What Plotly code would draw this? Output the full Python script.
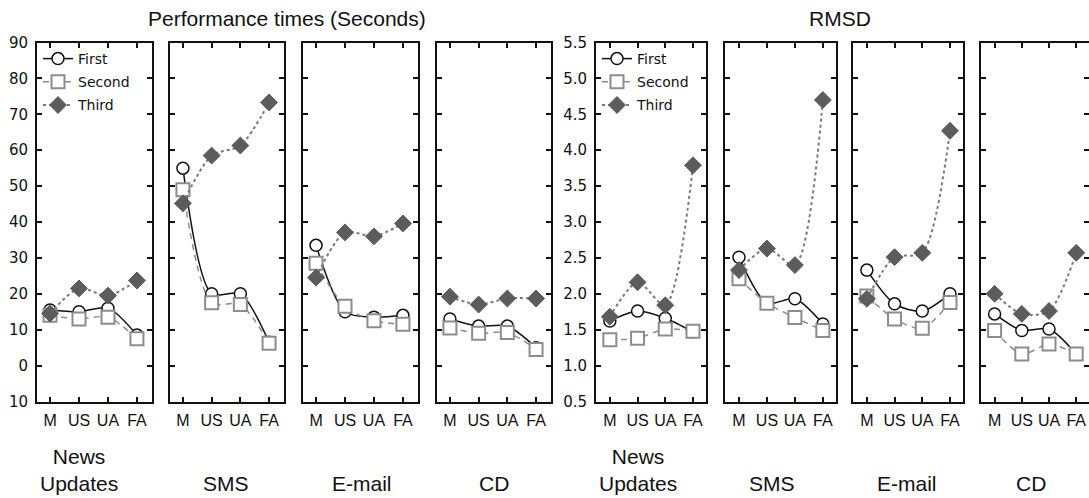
import plotly.graph_objects as go

# ---- data -------------------------------------------------------------
categories = ["M", "US", "UA", "FA"]
tasks = ["News<br>Updates", "SMS", "E-mail", "CD"]
series = ["First", "Second", "Third"]

# Performance times (seconds), one list per task: values for M, US, UA, FA
time_first = [
    [15.5, 15.0, 16.0, 8.5],
    [55.0, 20.0, 20.0, 6.5],
    [33.5, 15.0, 13.5, 14.0],
    [13.0, 11.0, 11.0, 5.0],
]
time_second = [
    [14.0, 13.0, 13.5, 7.5],
    [49.0, 17.5, 17.0, 6.2],
    [28.5, 16.5, 12.5, 11.5],
    [10.5, 9.0, 9.2, 4.5],
]
time_third = [
    [14.5, 21.5, 19.5, 23.7],
    [45.2, 58.5, 61.3, 73.3],
    [24.5, 37.1, 36.0, 39.6],
    [19.2, 17.0, 18.7, 18.7],
]

# RMSD, one list per task: values for M, US, UA, FA
rmsd_first = [
    [1.62, 1.76, 1.66, 1.47],
    [2.51, 1.87, 1.93, 1.58],
    [2.33, 1.86, 1.76, 2.00],
    [1.72, 1.49, 1.51, 1.16],
]
rmsd_second = [
    [1.36, 1.38, 1.51, 1.48],
    [2.21, 1.87, 1.67, 1.49],
    [1.97, 1.65, 1.52, 1.88],
    [1.49, 1.16, 1.30, 1.16],
]
rmsd_third = [
    [1.68, 2.16, 1.84, 3.79],
    [2.33, 2.63, 2.40, 4.70],
    [1.93, 2.51, 2.57, 4.27],
    [2.00, 1.72, 1.76, 2.57],
]

time_tickvals = [-10, 0, 10, 20, 30, 40, 50, 60, 70, 80, 90]
time_ticktext = ["10", "0", "10", "20", "30", "40", "50", "60", "70", "80", "90"]
rmsd_tickvals = [0.5, 1.0, 1.5, 2.0, 2.5, 3.0, 3.5, 4.0, 4.5, 5.0, 5.5]
rmsd_ticktext = ["0.5", "1.0", "1.5", "2.0", "2.5", "3.0", "3.5", "4.0", "4.5", "5.0", "5.5"]

group_titles = ["Performance times (Seconds)", "RMSD"]

# ---- layout geometry (pixels) -----------------------------------------
W, H = 1089, 498
PANEL_TOP, PANEL_BOTTOM = 42.5, 401.5
time_panels_px = [(37, 152), (170, 284), (303, 418), (437, 551)]
rmsd_panels_px = [(596, 706), (725, 836), (853, 963), (981, 1089)]
time_label_x = [79, 226, 362, 494]
rmsd_label_x = [638, 772, 907, 1031]
title_x = [287, 840]


def fx(px):
    return px / W


def fy(py):
    return 1 - py / H


INK = "#111111"
styles = {
    "First": dict(
        line=dict(color=INK, width=1.5, dash="solid", shape="spline", smoothing=0.8),
        marker=dict(symbol="circle", size=12, color="white",
                    line=dict(color=INK, width=1.5)),
    ),
    "Second": dict(
        line=dict(color="#8c8c8c", width=1.5, dash="6px,5px", shape="spline", smoothing=0.8),
        marker=dict(symbol="square", size=13, color="white",
                    line=dict(color="#8c8c8c", width=2)),
    ),
    "Third": dict(
        line=dict(color="#7a7a7a", width=2, dash="dot", shape="spline", smoothing=0.8),
        marker=dict(symbol="diamond", size=13, color="#5c5c5c",
                    line=dict(color="#5c5c5c", width=1)),
    ),
}

groups = [
    dict(data=[time_first, time_second, time_third], panels=time_panels_px,
         yrange=[-10, 90], tickvals=time_tickvals, ticktext=time_ticktext,
         xrange=[-0.45, 3.52], legend="legend", label_x=time_label_x),
    dict(data=[rmsd_first, rmsd_second, rmsd_third], panels=rmsd_panels_px,
         yrange=[0.5, 5.5], tickvals=rmsd_tickvals, ticktext=rmsd_ticktext,
         xrange=[-0.5, 3.47], legend="legend2", label_x=rmsd_label_x),
]

fig = go.Figure()
layout_axes = {}
annotations = []

k = 0
for g_idx, grp in enumerate(groups):
    for p_idx, (x0, x1) in enumerate(grp["panels"]):
        k += 1
        xname = "x" if k == 1 else f"x{k}"
        yname = "y" if k == 1 else f"y{k}"
        for s_idx, name in enumerate(series):
            st = styles[name]
            fig.add_trace(go.Scatter(
                x=categories,
                y=grp["data"][s_idx][p_idx],
                mode="lines+markers",
                name=name,
                line=st["line"],
                marker=st["marker"],
                xaxis=xname, yaxis=yname,
                showlegend=(p_idx == 0),
                legend=grp["legend"],
                legendgroup=f"{grp['legend']}_{name}",
                hoverinfo="x+y",
            ))
        layout_axes["xaxis" if k == 1 else f"xaxis{k}"] = dict(
            domain=[fx(x0), fx(x1)],
            type="category",
            categoryorder="array", categoryarray=categories,
            range=grp["xrange"],
            anchor=yname,
            showline=True, linecolor=INK, linewidth=2, mirror="ticks",
            ticks="inside", ticklen=5, tickwidth=1.5, tickcolor=INK,
            showgrid=False, zeroline=False, automargin=False,
            tickfont=dict(family="Liberation Sans, Arial, sans-serif", size=16, color=INK),
            ticklabelstandoff=3,
            fixedrange=True,
        )
        layout_axes["yaxis" if k == 1 else f"yaxis{k}"] = dict(
            domain=[fy(PANEL_BOTTOM), fy(PANEL_TOP)],
            range=grp["yrange"],
            anchor=xname,
            tickmode="array", tickvals=grp["tickvals"], ticktext=grp["ticktext"],
            showticklabels=(p_idx == 0),
            showline=True, linecolor=INK, linewidth=2, mirror="ticks",
            ticks="inside", ticklen=5, tickwidth=1.5, tickcolor=INK,
            showgrid=False, zeroline=False, automargin=False,
            tickfont=dict(family="DejaVu Sans, sans-serif", size=15, color=INK),
            ticklabelstandoff=4,
            fixedrange=True,
        )
        # task name under each panel
        annotations.append(dict(
            text=tasks[p_idx], xref="paper", yref="paper",
            x=fx(grp["label_x"][p_idx]), y=fy(497),
            xanchor="center", yanchor="bottom", align="center",
            showarrow=False,
            font=dict(family="Liberation Sans, Arial, sans-serif", size=21, color=INK),
        ))
    annotations.append(dict(
        text=group_titles[g_idx], xref="paper", yref="paper",
        x=fx(title_x[g_idx]), y=fy(18),
        xanchor="center", yanchor="middle", showarrow=False,
        font=dict(family="Liberation Sans, Arial, sans-serif", size=21, color=INK),
    ))

legend_style = dict(
    xanchor="left", yanchor="top",
    bgcolor="rgba(0,0,0,0)", borderwidth=0,
    font=dict(family="DejaVu Sans, sans-serif", size=14, color=INK),
    tracegroupgap=2, itemwidth=30, traceorder="grouped",
)

fig.update_layout(
    width=W, height=H,
    margin=dict(l=0, r=0, t=0, b=0, autoexpand=False),
    paper_bgcolor="white", plot_bgcolor="white",
    showlegend=True,
    legend=dict(x=fx(38), y=fy(43), **legend_style),
    legend2=dict(x=fx(597), y=fy(43), **legend_style),
    annotations=annotations,
    **layout_axes,
)

fig.write_html("out.html")
